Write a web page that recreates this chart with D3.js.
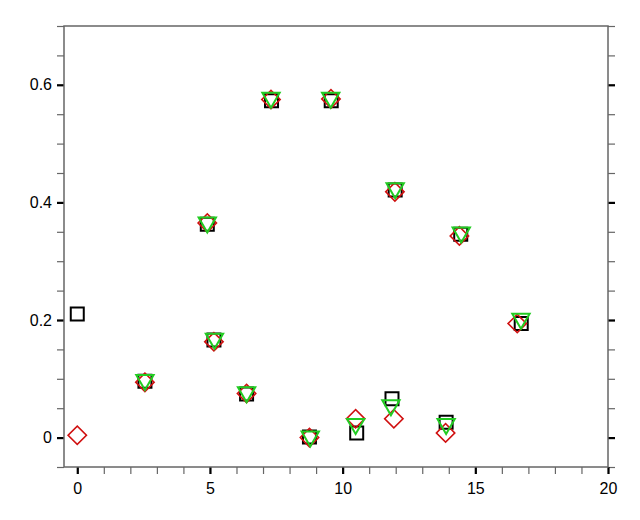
<!DOCTYPE html>
<html>
<head>
<meta charset="utf-8">
<script src="https://cdn.jsdelivr.net/npm/d3@7"></script>
<style>
  html, body { margin: 0; padding: 0; background: #fff; }
  svg { display: block; font-family: "Liberation Sans", Arial, sans-serif; }
</style>
</head>
<body>
<svg id="chart" width="640" height="520"></svg>
<script>
// ---- data ----
const squareX = [0, 2.55, 4.9, 5.15, 6.38, 7.32, 8.75, 9.57, 10.53, 11.86, 11.98, 13.9, 14.45, 16.73];
const squareY = [0.21, 0.096, 0.363, 0.166, 0.074, 0.573, 0.001, 0.573, 0.008, 0.066, 0.421, 0.026, 0.346, 0.194];

const diamondX = [0, 2.55, 4.9, 5.15, 6.38, 7.3, 8.75, 9.56, 10.49, 11.93, 11.97, 13.88, 14.4, 16.58];
const diamondY = [0.004, 0.094, 0.365, 0.163, 0.075, 0.575, 0.0, 0.576, 0.032, 0.032, 0.418, 0.008, 0.343, 0.194];

const triangleX = [2.55, 4.9, 5.17, 6.38, 7.3, 8.78, 9.55, 10.49, 11.82, 11.98, 13.9, 14.47, 16.72];
const triangleY = [0.098, 0.366, 0.168, 0.077, 0.578, 0.002, 0.578, 0.023, 0.055, 0.424, 0.023, 0.349, 0.202];

const xMajorTicks = [0, 5, 10, 15, 20];
const xMinorTicks = d3.range(0, 21, 1);
const yMajorTicks = [0, 0.2, 0.4, 0.6];
const yMinorTicks = d3.range(-0.05, 0.7001, 0.05).map(v => +v.toFixed(2));
const yTickLabels = ["0", "0.2", "0.4", "0.6"];

// ---- layout ----
const svg = d3.select("#chart");
const L = 64, R = 608, T = 26, B = 467;
const x = d3.scaleLinear().domain([-0.5, 20]).range([L, R]);
const y = d3.scaleLinear().domain([-0.05, 0.7]).range([B, T]);

const axisColor = "#666";

function styleMinor(g) {
  g.select(".domain").remove();
  g.selectAll(".tick line").attr("stroke", axisColor).attr("stroke-width", 1.2);
  g.selectAll(".tick text").remove();
}
function styleMajor(g, withText) {
  g.select(".domain").remove();
  g.selectAll(".tick line").attr("stroke", "#000").attr("stroke-width", 2.2);
  if (!withText) g.selectAll(".tick text").remove();
  else g.selectAll(".tick text").attr("fill", "#000").style("font-size", "16px");
}

// minor ticks
svg.append("g").attr("transform", `translate(0,${B})`)
  .call(d3.axisBottom(x).tickValues(xMinorTicks).tickSize(7)).call(styleMinor);
svg.append("g").attr("transform", `translate(${L},0)`)
  .call(d3.axisLeft(y).tickValues(yMinorTicks).tickSize(7)).call(styleMinor);
svg.append("g").attr("transform", `translate(${R},0)`)
  .call(d3.axisRight(y).tickValues(yMinorTicks).tickSize(7)).call(styleMinor);

// major ticks
svg.append("g").attr("transform", `translate(0,${B})`)
  .call(d3.axisBottom(x).tickValues(xMajorTicks).tickSize(7).tickPadding(9).tickFormat(d3.format("d")))
  .call(g => styleMajor(g, true));
svg.append("g").attr("transform", `translate(${L},0)`)
  .call(d3.axisLeft(y).tickValues(yMajorTicks).tickSize(7).tickPadding(5)
        .tickFormat((d, i) => yTickLabels[i]))
  .call(g => styleMajor(g, true));
svg.append("g").attr("transform", `translate(${R},0)`)
  .call(d3.axisRight(y).tickValues(yMajorTicks).tickSize(7))
  .call(g => styleMajor(g, false));

// frame
svg.append("rect").attr("x", L).attr("y", T).attr("width", R - L).attr("height", B - T)
  .attr("fill", "none").attr("stroke", axisColor).attr("stroke-width", 1.5);

// ---- markers ----
const sq = d3.symbol().type(d3.symbolSquare).size(13 * 13);
svg.append("g").selectAll("path").data(squareX.map((v, i) => [v, squareY[i]])).join("path")
  .attr("d", sq)
  .attr("transform", d => `translate(${x(d[0])},${y(d[1])})`)
  .attr("fill", "none").attr("stroke", "#000").attr("stroke-width", 2);

svg.append("g").selectAll("path").data(diamondX.map((v, i) => [v, diamondY[i]])).join("path")
  .attr("d", sq)
  .attr("transform", d => `translate(${x(d[0])},${y(d[1])}) rotate(45)`)
  .attr("fill", "none").attr("stroke", "#d01010").attr("stroke-width", 1.6);

const tri = d3.symbol().type(d3.symbolTriangle).size(130);
svg.append("g").selectAll("path").data(triangleX.map((v, i) => [v, triangleY[i]])).join("path")
  .attr("d", tri)
  .attr("transform", d => `translate(${x(d[0])},${y(d[1])}) rotate(180)`)
  .attr("fill", "none").attr("stroke", "#22cc22").attr("stroke-width", 2);
</script>
</body>
</html>
